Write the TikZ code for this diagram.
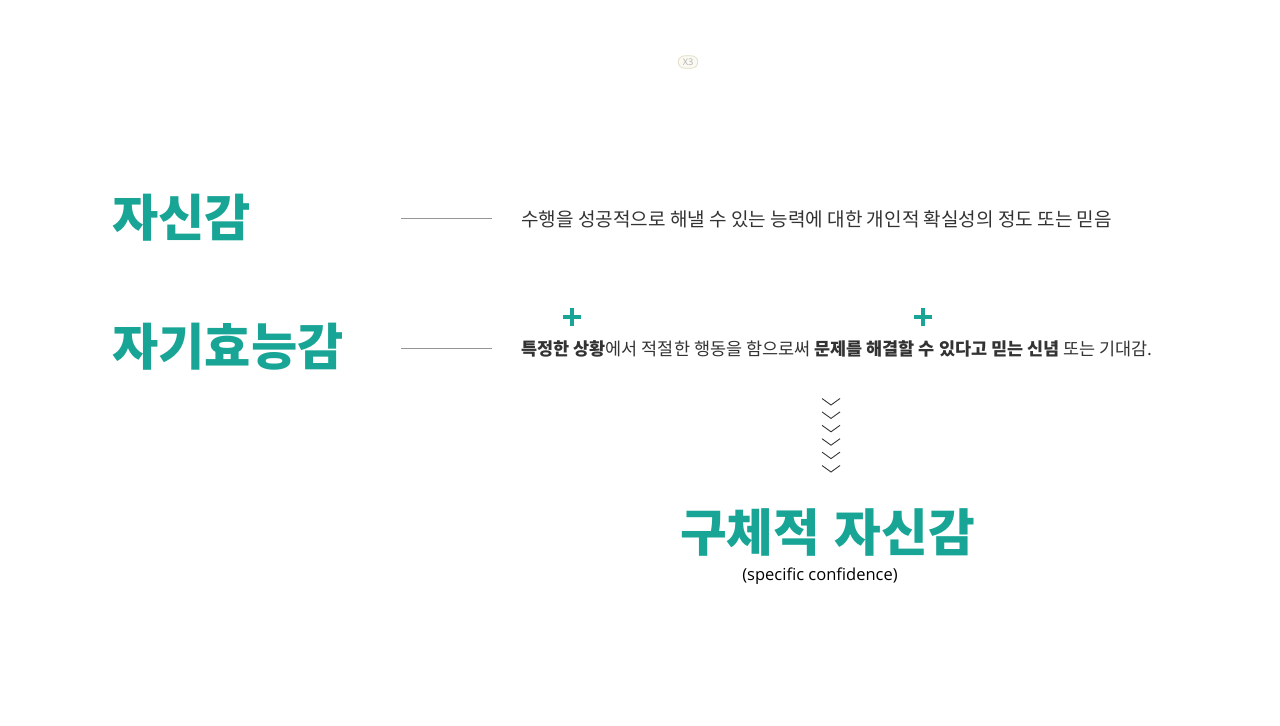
\documentclass[tikz,border=0pt]{standalone}
\usepackage{fontspec}
\newfontfamily\kr{Noto Sans CJK KR}
\newfontfamily\lat{Open Sans}
\definecolor{teal1}{RGB}{24,165,150}
\definecolor{txt}{RGB}{51,51,51}
\definecolor{rule}{RGB}{150,150,150}
\definecolor{badgeline}{RGB}{225,220,195}
\definecolor{badgefill}{RGB}{250,249,242}
\definecolor{badgetext}{RGB}{175,175,175}
\begin{document}
\begin{tikzpicture}[x=0.02cm,y=-0.02cm,
  title/.style={anchor=west,inner sep=0,text=teal1,font=\kr\bfseries\fontsize{28.6}{32}\selectfont},
  body/.style={anchor=west,inner sep=0,text=txt},
  conn/.style={draw=rule,line width=0.5pt},
  plus/.style={draw=teal1,line width=2.2pt},
  chev/.style={draw=txt,line width=0.5pt},
  badgestyle/.style={draw=badgeline,fill=badgefill,rounded corners=3.5pt,inner xsep=2.6pt,inner ysep=1.6pt,text=badgetext,font=\lat\fontsize{5.2}{6}\selectfont,line width=0.4pt}]
\useasboundingbox (0,0) rectangle (1280,725);
% badge
\node[badgestyle] (badge) at (688,62) {X3};
% titles
\node[title] (t1) at (112,218) {자신감};
\node[title] (t2) at (112,347) {자기효능감};
% connectors
\coordinate (l1a) at (401,218); \coordinate (l1b) at (492,218);
\coordinate (l2a) at (401,348); \coordinate (l2b) at (492,348);
\draw[conn] (l1a) -- (l1b);
\draw[conn] (l2a) -- (l2b);
% definitions
\node[body,font=\kr\fontsize{10.85}{12}\selectfont] (d1) at (521,219.5) {수행을 성공적으로 해낼 수 있는 능력에 대한 개인적 확실성의 정도 또는 믿음};
\node[body,font=\kr\fontsize{9.95}{12}\selectfont] (d2) at (521,349) {\textbf{특정한 상황}에서 적절한 행동을 함으로써 \textbf{문제를 해결할 수 있다고 믿는 신념} 또는 기대감.};
% plus signs
\coordinate (p1) at (572,317);
\coordinate (p2) at (923,317);
\draw[plus] ([xshift=-0.18cm]p1) -- ([xshift=0.18cm]p1) ([yshift=0.18cm]p1) -- ([yshift=-0.18cm]p1);
\draw[plus] ([xshift=-0.18cm]p2) -- ([xshift=0.18cm]p2) ([yshift=0.18cm]p2) -- ([yshift=-0.18cm]p2);
% chevrons
\foreach \i in {0,...,5}{
  \draw[chev] (822,{398.5+13.4*\i}) -- (831,{405+13.4*\i}) -- (840,{398.5+13.4*\i});
}
% result
\node[anchor=center,inner sep=0,text=teal1,font=\kr\bfseries\fontsize{28.9}{32}\selectfont] (r) at (827.5,532.5) {구체적\hspace{0.06em} 자신감};
\node[anchor=center,inner sep=0,text=black,font=\lat\fontsize{9.4}{11}\selectfont] (rs) at (820,576) {(specific confidence)};
\end{tikzpicture}
\end{document}
